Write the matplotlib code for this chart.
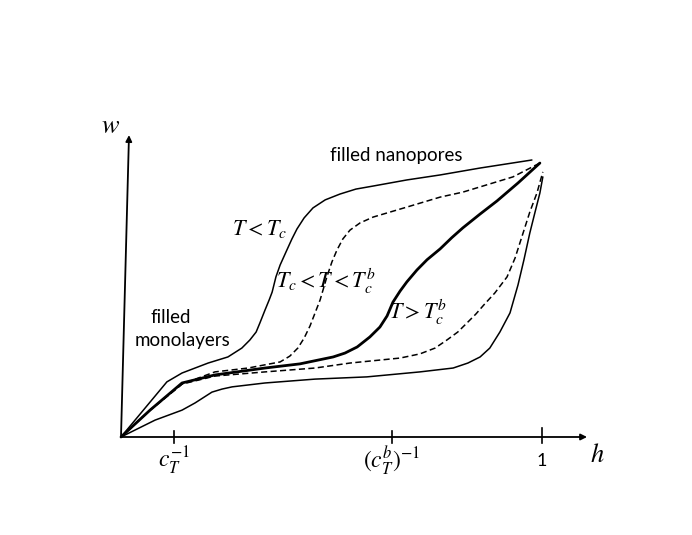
"""Sketch of adsorption isotherms w(h) for nanoporous material at different temperatures."""
import matplotlib
matplotlib.use("Agg")
import matplotlib.pyplot as plt

plt.rcParams["mathtext.fontset"] = "stix"
SANS = ["Lato", "DejaVu Sans"]

# ---- curves: relative humidity h, water content w ----
h_low = [0, 0.109, 0.145, 0.207, 0.254, 0.287, 0.306, 0.321, 0.330, 0.342, 0.352,
         0.359, 0.368, 0.378, 0.394, 0.406, 0.418, 0.435, 0.456, 0.485, 0.520,
         0.558, 0.599, 0.679, 0.758, 0.853, 0.976]
w_low = [0, 0.199, 0.231, 0.267, 0.289, 0.321, 0.350, 0.379, 0.412, 0.458, 0.495,
         0.523, 0.578, 0.621, 0.675, 0.715, 0.751, 0.791, 0.827, 0.856, 0.877,
         0.895, 0.906, 0.928, 0.946, 0.971, 1.0]

h_mid = [0, 0.069, 0.145, 0.223, 0.302, 0.378, 0.401, 0.420, 0.435, 0.449, 0.461,
         0.473, 0.489, 0.501, 0.513, 0.527, 0.544, 0.568, 0.599, 0.639, 0.679,
         0.758, 0.812, 0.931, 0.995]
w_mid = [0, 0.097, 0.191, 0.235, 0.249, 0.271, 0.292, 0.321, 0.357, 0.401, 0.448,
         0.495, 0.578, 0.632, 0.675, 0.715, 0.747, 0.773, 0.794, 0.812, 0.830,
         0.866, 0.884, 0.939, 0.989]

h_crit = [0, 0.069, 0.145, 0.223, 0.342, 0.425, 0.504, 0.532, 0.561, 0.591, 0.615,
          0.632, 0.646, 0.663, 0.679, 0.703, 0.727, 0.758, 0.786, 0.812, 0.853,
          0.893, 0.943, 0.995]
w_crit = [0, 0.097, 0.195, 0.224, 0.249, 0.264, 0.289, 0.303, 0.325, 0.361, 0.397,
          0.437, 0.487, 0.527, 0.560, 0.603, 0.640, 0.679, 0.720, 0.755, 0.805,
          0.852, 0.917, 0.989]

h_high = [0, 0.069, 0.145, 0.223, 0.342, 0.461, 0.544, 0.663, 0.710, 0.746, 0.774,
          0.800, 0.822, 0.843, 0.862, 0.888, 0.917, 0.936, 0.955, 0.971, 0.988, 1.002]
w_high = [0, 0.097, 0.191, 0.220, 0.235, 0.249, 0.267, 0.285, 0.300, 0.321, 0.350,
          0.379, 0.412, 0.444, 0.477, 0.520, 0.578, 0.646, 0.736, 0.812, 0.881, 0.957]

h_top = [0, 0.081, 0.145, 0.176, 0.216, 0.240, 0.264, 0.342, 0.461, 0.584, 0.710,
         0.789, 0.824, 0.853, 0.876, 0.900, 0.924, 0.943, 0.957, 0.971, 0.983,
         0.995, 1.002]
w_top = [0, 0.061, 0.097, 0.123, 0.162, 0.173, 0.181, 0.195, 0.209, 0.217, 0.235,
         0.249, 0.267, 0.289, 0.321, 0.379, 0.448, 0.549, 0.639, 0.736, 0.809,
         0.881, 0.939]

tick_pos = [0.126, 0.644, 1.0]
tick_labels = [r"$c_T^{-1}$", r"$(c_T^b)^{-1}$", "1"]

fig = plt.figure(figsize=(6.92, 5.35), dpi=100)
ax = fig.add_axes([0, 0, 1, 1])
ax.set_xlim(-0.2874, 1.3563)
ax.set_ylim(-0.3538, 1.5776)
ax.axis("off")

# curves
line = dict(color="k", solid_joinstyle="round", solid_capstyle="round",
            dash_joinstyle="round")
ax.plot(h_low, w_low, lw=1.1, **line)
ax.plot(h_mid, w_mid, lw=1.1, ls=(0, (4, 2.2)), **line)
ax.plot(h_crit, w_crit, lw=2.0, **line)
ax.plot(h_high, w_high, lw=1.1, ls=(0, (4, 2.2)), **line)
ax.plot(h_top, w_top, lw=1.1, **line)

# axes with arrows (the w axis leans a little)
arrow = dict(arrowstyle="-|>", mutation_scale=9, lw=1.3, color="k", shrinkA=0, shrinkB=0)
ax.annotate("", xy=(1.107, 0), xytext=(0, 0), arrowprops=arrow)
ax.annotate("", xy=(0.019, 1.090), xytext=(0, 0), arrowprops=arrow)

# ticks
for t in tick_pos:
    ax.plot([t, t], [-0.022, 0.022 if t < 1 else 0.032], color="k", lw=1.2)
for t, lab in zip(tick_pos, tick_labels):
    if lab == "1":
        ax.text(t, -0.087, lab, ha="center", va="center", fontsize=13, family=SANS)
    else:
        ax.text(t, -0.087, lab, ha="center", va="center", fontsize=17)

ax.text(-0.024, 1.123, r"$w$", ha="center", va="center", fontsize=19)
ax.text(1.131, -0.065, r"$h$", ha="center", va="center", fontsize=19)

# annotations
ax.text(0.330, 0.751, r"$T < T_c$", ha="center", va="center", fontsize=16)
ax.text(0.487, 0.560, r"$T_c < T < T_c^b$", ha="center", va="center", fontsize=16)
ax.text(0.705, 0.451, r"$T > T_c^b$", ha="center", va="center", fontsize=16)
ax.text(0.653, 1.018, "filled nanopores", ha="center", va="center", fontsize=13.5, family=SANS)
ax.text(0.119, 0.430, "filled", ha="center", va="center", fontsize=13.5, family=SANS)
ax.text(0.145, 0.347, "monolayers", ha="center", va="center", fontsize=13.5, family=SANS)

fig.savefig("out.png", dpi=100)
